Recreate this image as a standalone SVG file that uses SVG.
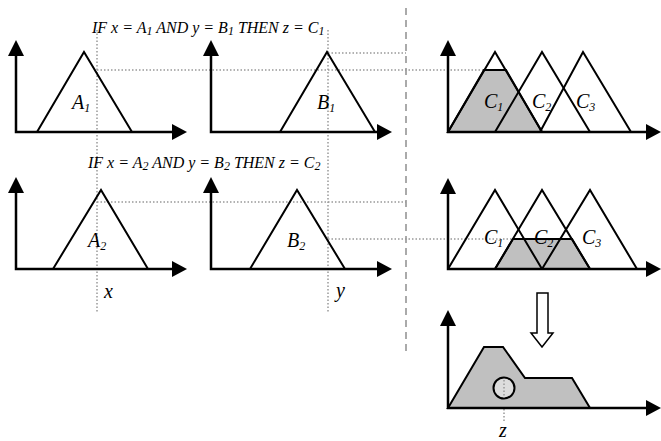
<svg xmlns="http://www.w3.org/2000/svg" width="661" height="441" viewBox="0 0 661 441">
<style>
.ax{stroke:#000;stroke-width:2.5;fill:none}
.tri{stroke:#000;stroke-width:2;fill:none;stroke-linejoin:miter}
.gr{fill:#c0c0c0;stroke:#000;stroke-width:2}
.dot{stroke:#999;stroke-width:1.5;stroke-dasharray:1.5 2;fill:none}
.dash{stroke:#aaa;stroke-width:2;stroke-dasharray:7 5;fill:none}
.hd{fill:#000}
text{font-family:"Liberation Serif","Times New Roman",serif;font-style:italic;fill:#000}
.rule{font-size:16px}
.lbl{font-size:20px}
.sub{font-size:12px}
</style>
<g id="connectors">
<line class="dash" x1="406" y1="8" x2="406" y2="352"/>
<line class="dot" x1="97" y1="30" x2="97" y2="312"/>
<line class="dot" x1="328" y1="30" x2="328" y2="312"/>
<line class="dot" x1="97" y1="70" x2="484" y2="70"/>
<line class="dot" x1="328" y1="53" x2="406" y2="53"/>
<line class="dot" x1="97" y1="202" x2="406" y2="202"/>
<line class="dot" x1="328" y1="239" x2="513" y2="239"/>
<line class="dot" x1="504" y1="388" x2="504" y2="422"/>
<path d="M537,293 H548 V333 H553 L542,347 L531,333 H537 Z" fill="#fff" stroke="#000" stroke-width="1.5"/>
</g>
<g id="rule1"><text class="rule" x="92" y="33">IF x = A<tspan class="sub" dy="2">1</tspan><tspan dy="-2"> AND y = B</tspan><tspan class="sub" dy="2">1</tspan><tspan dy="-2"> THEN z = C</tspan><tspan class="sub" dy="2">1</tspan></text></g>
<g id="rule2"><text class="rule" x="88" y="168">IF x = A<tspan class="sub" dy="2">2</tspan><tspan dy="-2"> AND y = B</tspan><tspan class="sub" dy="2">2</tspan><tspan dy="-2"> THEN z = C</tspan><tspan class="sub" dy="2">2</tspan></text></g>
<g id="A1">
<polyline class="ax" points="16,52 16,132 174,132"/>
<path class="hd" d="M16,40 L24,56 L8,56 Z M187,132 L172,124 L172,140 Z"/>
<polyline class="tri" points="37,132 84,52 132,132"/>
<text class="lbl" x="72" y="109">A<tspan class="sub" dy="3">1</tspan></text>
</g>
<g id="B1">
<polyline class="ax" points="211,52 211,132 379,132"/>
<path class="hd" d="M211,40 L219,56 L203,56 Z M392,132 L377,124 L377,140 Z"/>
<polyline class="tri" points="280,132 327,52 375,132"/>
<text class="lbl" x="317" y="109">B<tspan class="sub" dy="3">1</tspan></text>
</g>
<g id="C1row">
<polygon class="gr" points="448,132 484,70 506,70 542,132"/>
<polyline class="ax" points="448,52 448,132 647,132"/>
<path class="hd" d="M448,40 L456,56 L440,56 Z M661,132 L646,124 L646,140 Z"/>
<polyline class="tri" points="448,132 495,52 542,132"/>
<polyline class="tri" points="495,132 542,52 590,132"/>
<polyline class="tri" points="540,132 583,52 631,132"/>
<text class="lbl" x="484" y="108">C<tspan class="sub" dy="3">1</tspan></text>
<text class="lbl" x="532" y="108">C<tspan class="sub" dy="3">2</tspan></text>
<text class="lbl" x="576" y="108">C<tspan class="sub" dy="3">3</tspan></text>
</g>
<g id="A2">
<polyline class="ax" points="16,189 16,269 174,269"/>
<path class="hd" d="M16,177 L24,193 L8,193 Z M187,269 L172,261 L172,277 Z"/>
<polyline class="tri" points="53,269 101,190 148,269"/>
<text class="lbl" x="88" y="247">A<tspan class="sub" dy="3">2</tspan></text>
<text class="lbl" x="104" y="298">x</text>
</g>
<g id="B2">
<polyline class="ax" points="211,189 211,269 379,269"/>
<path class="hd" d="M211,177 L219,193 L203,193 Z M392,269 L377,261 L377,277 Z"/>
<polyline class="tri" points="250,269 297,190 345,269"/>
<text class="lbl" x="287" y="247">B<tspan class="sub" dy="3">2</tspan></text>
<text class="lbl" x="336" y="297">y</text>
</g>
<g id="C2row">
<polygon class="gr" points="495,269 513,239 572,239 590,269"/>
<polyline class="ax" points="448,190 448,269 647,269"/>
<path class="hd" d="M448,178 L456,194 L440,194 Z M661,269 L646,261 L646,277 Z"/>
<polyline class="tri" points="448,269 495,190 542,269"/>
<polyline class="tri" points="495,269 542,190 590,269"/>
<polyline class="tri" points="542,269 590,190 637,269"/>
<text class="lbl" x="484" y="244">C<tspan class="sub" dy="3">1</tspan></text>
<text class="lbl" x="534" y="244">C<tspan class="sub" dy="3">2</tspan></text>
<text class="lbl" x="582" y="244">C<tspan class="sub" dy="3">3</tspan></text>
</g>
<g id="output">
<polygon class="gr" points="448,408 484,347 503,347 525,378 572,378 590,408"/>
<circle cx="504" cy="388" r="10.5" fill="#ddd" stroke="#000" stroke-width="2"/>
<line class="dot" x1="504" y1="380" x2="504" y2="398"/>
<polyline class="ax" points="448,322 448,408 647,408"/>
<path class="hd" d="M448,310 L456,326 L440,326 Z M661,408 L646,400 L646,416 Z"/>
<text class="lbl" x="499" y="437">z</text>
</g>
</svg>
